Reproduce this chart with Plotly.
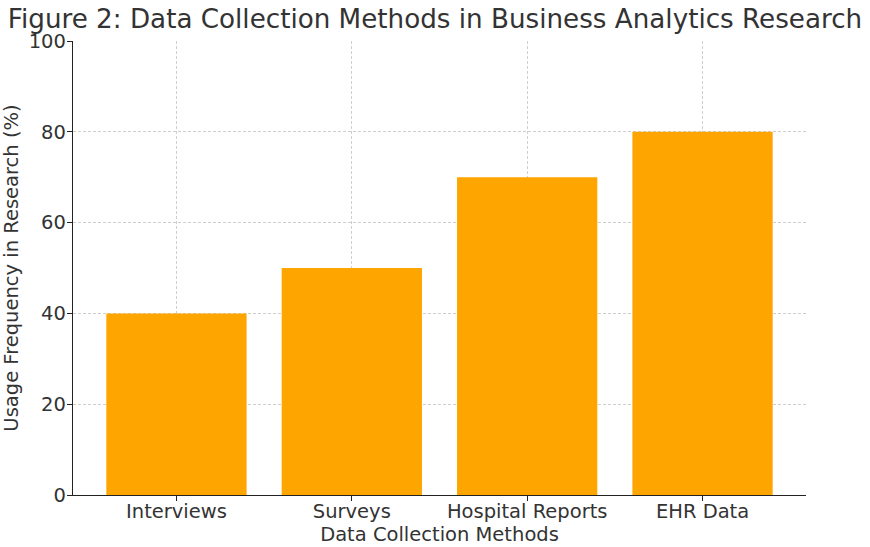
import plotly.graph_objects as go

methods = ["Interviews", "Surveys", "Hospital Reports", "EHR Data"]
usage_pct = [40, 50, 70, 80]
y_ticks = [0, 20, 40, 60, 80, 100]

TEXT = "#333333"
FONT = "DejaVu Sans"
GRID = dict(
    showgrid=True,
    gridcolor="#cfcfcf",
    griddash="3px,2px",
    gridwidth=0.8,
    layer="above traces",
    zeroline=False,
)
AXIS = dict(
    showline=True,
    linecolor="#222222",
    linewidth=1.3,
    mirror=False,
    ticks="outside",
    ticklen=5,
    tickwidth=1.2,
    tickcolor="#222222",
    tickfont=dict(size=19.5),
    automargin=False,
)

fig = go.Figure(
    go.Bar(
        x=methods,
        y=usage_pct,
        width=0.8,
        marker=dict(color="#FFA500", line=dict(width=0)),
        hoverinfo="x+y",
    )
)

fig.update_layout(
    width=870,
    height=547,
    margin=dict(l=73, r=64, t=41, b=52, autoexpand=False),
    paper_bgcolor="white",
    plot_bgcolor="white",
    font=dict(family=FONT, size=19.5, color=TEXT),
    showlegend=False,
    title=dict(
        text="Figure 2: Data Collection Methods in Business Analytics Research",
        x=0.5,
        xanchor="center",
        y=0.966,
        yanchor="middle",
        font=dict(family=FONT, size=26.2, color=TEXT),
    ),
)

fig.update_xaxes(
    type="category",
    range=[-0.59, 3.59],
    title=dict(text="Data Collection Methods", standoff=2, font=dict(size=19.5)),
    ticklabelstandoff=-7,
    **AXIS,
    **GRID,
)

fig.update_yaxes(
    range=[0, 100],
    tickvals=y_ticks,
    title=dict(text="Usage Frequency in Research (%)", standoff=8, font=dict(size=19.5)),
    ticklabelstandoff=-3,
    **AXIS,
    **GRID,
)

fig.write_html("out.html")
